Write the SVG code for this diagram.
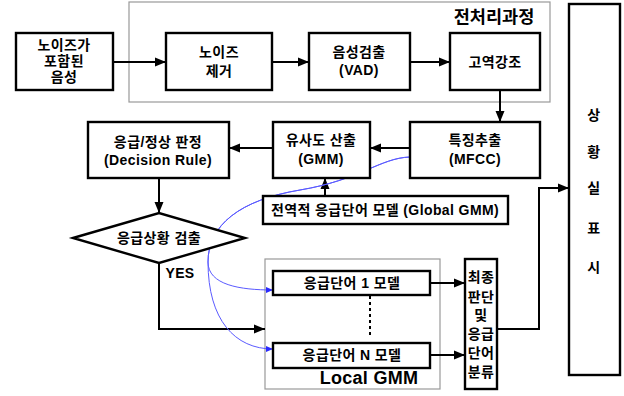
<svg xmlns="http://www.w3.org/2000/svg" width="624" height="396" viewBox="0 0 624 396">
<defs>
<style>
.box{fill:#fff;stroke:#000;stroke-width:2.4}
.grp{fill:#fff;stroke:#999;stroke-width:1.2}
.t{font-family:"Liberation Sans","Noto Sans CJK KR",sans-serif;font-weight:bold;font-size:14px;letter-spacing:0.4px;text-anchor:middle;fill:#000}
.big{font-size:17.5px;letter-spacing:0}
.ln{fill:none;stroke:#000;stroke-width:2}
.bl{fill:none;stroke:#5a5aff;stroke-width:1}
</style>
<marker id="ah" markerUnits="userSpaceOnUse" markerWidth="12" markerHeight="10" refX="11" refY="5" orient="auto"><path d="M0,0.5 L11,5 L0,9.5 Z" fill="#000"/></marker>
<marker id="bh" markerUnits="userSpaceOnUse" markerWidth="8" markerHeight="6" refX="7" refY="3" orient="auto"><path d="M0,0 L7,3 L0,6 Z" fill="#2a2aff"/></marker>
</defs>
<rect width="624" height="396" fill="#fff"/>

<g id="preprocess">
<rect class="grp" x="129" y="2" width="421" height="100"/>
<text class="t big" x="494" y="23">전처리과정</text>
</g>
<g id="localgmm">
<rect class="grp" x="265" y="259" width="175" height="130"/>
<text class="t" style="font-size:18px;letter-spacing:0.3px" x="369" y="384">Local GMM</text>
</g>

<g id="connectors">
<path class="ln" d="M113,62 H166" marker-end="url(#ah)"/>
<path class="ln" d="M272,62 H309" marker-end="url(#ah)"/>
<path class="ln" d="M410,62 H450" marker-end="url(#ah)"/>
<path class="ln" d="M500,90 V122" marker-end="url(#ah)"/>
<path class="ln" d="M410,148 H370" marker-end="url(#ah)"/>
<path class="ln" d="M273,148 H229" marker-end="url(#ah)"/>
<path class="ln" d="M159,178 V213" marker-end="url(#ah)"/>
<path class="ln" d="M325,196 V178" marker-end="url(#ah)"/>
<path class="ln" d="M159,263 V329 H265" marker-end="url(#ah)"/>
<path class="ln" d="M430,283 H465" marker-end="url(#ah)"/>
<path class="ln" d="M430,355 H465" marker-end="url(#ah)"/>
<path class="ln" d="M497,329 H539 V188 H569" marker-end="url(#ah)"/>
<path d="M370,296 V337" fill="none" stroke="#000" stroke-width="2" stroke-dasharray="3,3"/>
<path class="bl" d="M410,157 C380,158 360,180 300,190 C240,200 208,225 208,262 C208,285 240,290 273,290" marker-end="url(#bh)"/>
<path class="bl" d="M410,157 C380,158 360,180 300,190 C240,200 208,225 208,262 C208,320 235,349 273,349" marker-end="url(#bh)"/>
</g>

<g id="n_input">
<rect class="box" x="16" y="33" width="97" height="57"/>
<text class="t" x="64" y="50">노이즈가</text>
<text class="t" x="64" y="66">포함된</text>
<text class="t" x="64" y="82">음성</text>
</g>
<g id="n_denoise">
<rect class="box" x="166" y="33" width="106" height="57"/>
<text class="t" x="219" y="57">노이즈</text>
<text class="t" x="219" y="76">제거</text>
</g>
<g id="n_vad">
<rect class="box" x="309" y="33" width="101" height="57"/>
<text class="t" x="359" y="57">음성검출</text>
<text class="t" x="359" y="75">(VAD)</text>
</g>
<g id="n_preemph">
<rect class="box" x="450" y="33" width="90" height="57"/>
<text class="t" x="495" y="67">고역강조</text>
</g>
<g id="n_mfcc">
<rect class="box" x="410" y="122" width="130" height="56"/>
<text class="t" x="475" y="145">특징추출</text>
<text class="t" x="475" y="164">(MFCC)</text>
</g>
<g id="n_sim">
<rect class="box" x="273" y="122" width="97" height="56"/>
<text class="t" x="321" y="145">유사도 산출</text>
<text class="t" x="321" y="164">(GMM)</text>
</g>
<g id="n_decision">
<rect class="box" x="88" y="122" width="141" height="56"/>
<text class="t" x="158" y="147">응급/정상 판정</text>
<text class="t" x="158" y="165">(Decision Rule)</text>
</g>
<g id="n_detect">
<path class="box" d="M73,238 L159,213 L245,238 L159,263 Z"/>
<text class="t" x="159" y="243">응급상황 검출</text>
<text class="t" x="180" y="278">YES</text>
</g>
<g id="n_global">
<rect class="box" x="263" y="196" width="245" height="28"/>
<text class="t" x="385" y="215">전역적 응급단어 모델 (Global GMM)</text>
</g>
<g id="n_model1">
<rect class="box" x="273" y="271" width="157" height="24"/>
<text class="t" x="352" y="288">응급단어 1 모델</text>
</g>
<g id="n_modelN">
<rect class="box" x="273" y="343" width="157" height="25"/>
<text class="t" x="352" y="360">응급단어 N 모델</text>
</g>
<g id="n_final">
<rect class="box" x="465" y="259" width="32" height="130"/>
<text class="t" x="481" y="282">최종</text>
<text class="t" x="481" y="302">판단</text>
<text class="t" x="481" y="320">및</text>
<text class="t" x="481" y="339">응급</text>
<text class="t" x="481" y="358">단어</text>
<text class="t" x="481" y="377">분류</text>
</g>
<g id="n_display">
<rect class="box" x="569" y="4" width="51" height="371"/>
<text class="t" x="594" y="120">상</text>
<text class="t" x="594" y="157">황</text>
<text class="t" x="594" y="193">실</text>
<text class="t" x="594" y="233">표</text>
<text class="t" x="594" y="272">시</text>
</g>
</svg>
